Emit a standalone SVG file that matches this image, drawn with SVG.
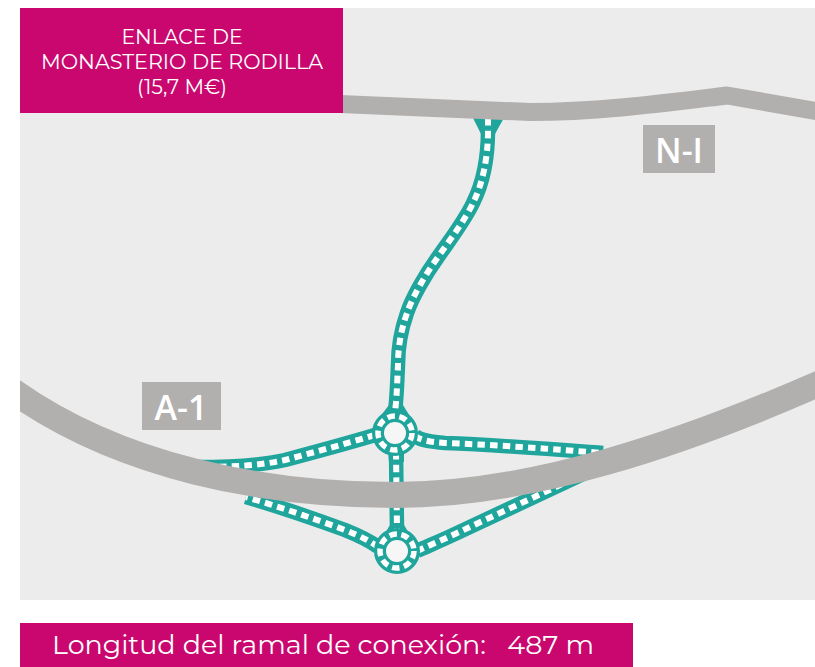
<svg xmlns="http://www.w3.org/2000/svg" width="815" height="667" viewBox="0 0 815 667">
<style>
.t{fill:none;stroke:#1fa59c;stroke-width:14.5}
.d{fill:none;stroke:#fff;stroke-width:6;stroke-dasharray:7.5 5.2}
.rt{fill:#f6f6f6;stroke:#1fa59c;stroke-width:12}
.rd{fill:none;stroke:#fff;stroke-width:5.5;stroke-dasharray:7.5 4.5}
.fl{fill:#1fa59c}
.road{fill:none;stroke:#b2b0ae;stroke-linejoin:miter}
.lbl{font-family:"Montserrat","Open Sans","Liberation Sans",sans-serif;fill:#fff;text-anchor:middle}
.sign{font-family:"Open Sans","Liberation Sans",sans-serif;fill:#fff;text-anchor:middle;font-weight:600;font-size:34px}
</style>
<defs><clipPath id="panel"><rect x="20" y="8" width="795" height="592"/></clipPath></defs>
<rect x="0" y="0" width="815" height="667" fill="#fff"/>
<rect x="20" y="8" width="795" height="592" fill="#ececec"/>
<g id="connectors">
<path class="fl" d="M472 116L505 116L495 134L481 134Z"/>
<path class="fl" d="M389 405L403 405L411 418L379 418Z"/>
<path class="fl" d="M388 450L404 450L404 462L389 462Z"/>
<path class="fl" d="M390 525L404 525L412 538L382 538Z"/>
<path class="t" d="M488 118L488 130C488 160 482 185 473 203C465 220 452 237 438 257C425 275 412 298 407 313C400 333 398 350 398 365C397 385 397 395 395 412"/>
<path class="d" d="M488 118L488 130C488 160 482 185 473 203C465 220 452 237 438 257C425 275 412 298 407 313C400 333 398 350 398 365C397 385 397 395 395 412"/>
<path class="t" d="M375 435C345 444 315 452 285 460C258 466 228 467 197 467"/>
<path class="d" d="M375 435C345 444 315 452 285 460C258 466 228 467 197 467"/>
<path class="t" d="M415 436C422 441 432 442 445 443C500 445 550 449 603 453"/>
<path class="d" d="M415 436C422 441 432 442 445 443C500 445 550 449 603 453"/>
<path class="t" d="M396 452L397 530"/>
<path class="d" d="M396 452L397 530"/>
<path class="t" d="M378 547C370 541 360 536 345 530C315 519 280 507 246 497"/>
<path class="d" d="M378 547C370 541 360 536 345 530C315 519 280 507 246 497"/>
<path class="t" d="M417 551C428 546 440 541 455 534C495 515 535 497 596 468"/>
<path class="d" d="M417 551C428 546 440 541 455 534C495 515 535 497 596 468"/>
</g>
<g id="roundabout-north">
<circle class="rt" cx="395" cy="433" r="17"/>
<circle class="rd" cx="395" cy="433" r="17"/>
</g>
<g id="roundabout-south">
<circle class="rt" cx="397" cy="551" r="17"/>
<circle class="rd" cx="397" cy="551" r="17"/>
</g>
<g id="road-a1" clip-path="url(#panel)">
<path class="road" stroke-width="26" d="M10 389C120 468 265 495 395 495C530 495 680 445 825 381"/>
</g>
<g id="road-n1" clip-path="url(#panel)">
<path class="road" stroke-width="18" d="M340 104L530 112C600 112 665 103 727 95.500L825 112.500"/>
</g>
<g id="label-n1">
<rect x="643" y="125" width="72" height="48" fill="#b2b0ae"/>
<text class="sign" x="679" y="163">N-I</text>
</g>
<g id="label-a1">
<rect x="142" y="382" width="79" height="48" fill="#b2b0ae"/>
<text class="sign" x="181" y="420">A-1</text>
</g>
<g id="title">
<rect x="20" y="8" width="323" height="105" fill="#c9076f"/>
<text class="lbl" font-size="20.5"><tspan x="182" y="44">ENLACE DE</tspan><tspan x="182" y="69" textLength="282" lengthAdjust="spacingAndGlyphs">MONASTERIO DE RODILLA</tspan><tspan x="182" y="94">(15,7 M€)</tspan></text>
</g>
<g id="length">
<rect x="20" y="623" width="613" height="44" fill="#c9076f"/>
<text class="lbl" x="323" y="654" font-size="25.5" textLength="542" lengthAdjust="spacingAndGlyphs" xml:space="preserve">Longitud del ramal de conexión:   487 m</text>
</g>
</svg>
